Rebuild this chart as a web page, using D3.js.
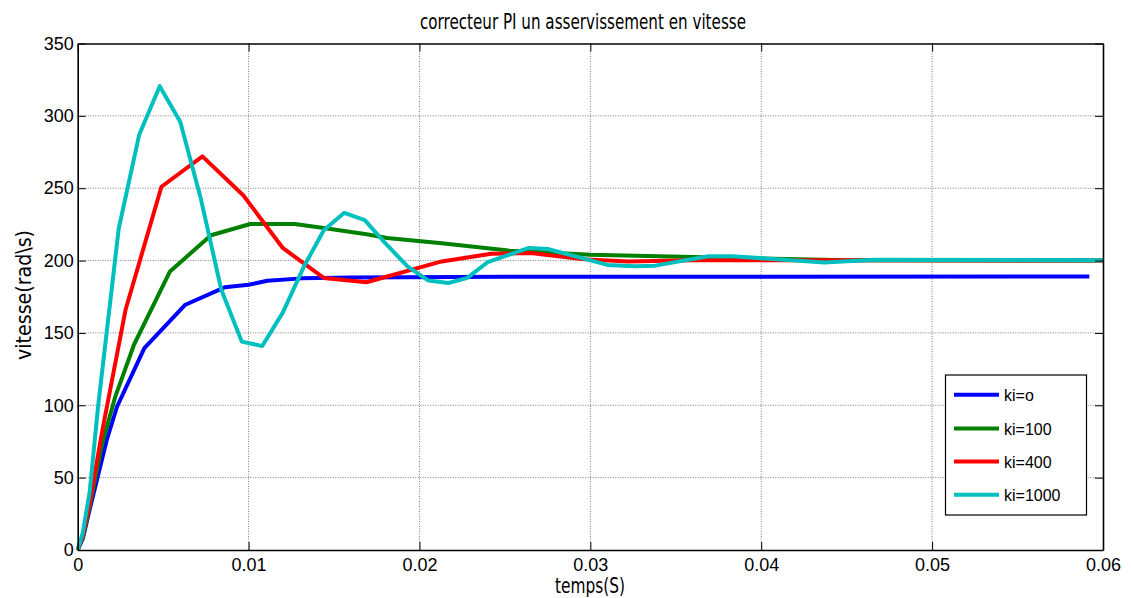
<!DOCTYPE html>
<html>
<head>
<meta charset="utf-8">
<script src="https://cdn.jsdelivr.net/npm/d3@7"></script>
<style>
  body { margin: 0; background: #fff; }
  svg { display: block; }
</style>
</head>
<body>
<script>
// values: [temps (s), vitesse (rad/s)]
const ki0 = [[0,0],[0.0003,8],[0.0007,28],[0.0017,76],[0.0023,99],[0.0039,139.5],[0.0063,169.5],
  [0.0086,181.5],[0.0100,183.3],[0.0111,186],[0.0131,187.7],[0.016,188.3],[0.025,188.8],[0.0592,189]];
const ki100 = [[0,0],[0.0003,9],[0.0007,30],[0.0014,72],[0.0022,106],[0.0033,142],[0.0054,192.5],
  [0.0078,217.5],[0.0101,225.3],[0.0127,225.3],[0.0144,222.5],[0.017,218],[0.0181,215.6],[0.0213,212],
  [0.0252,207],[0.030,204],[0.036,202.5],[0.045,200.3],[0.06,200]];
const ki400 = [[0,0],[0.0003,10],[0.0007,32],[0.0014,80],[0.0028,166],[0.0049,251],[0.0073,272],
  [0.0097,245],[0.012,208.7],[0.0144,188],[0.0169,185],[0.0213,199.4],[0.0242,204.7],[0.0265,205.2],
  [0.0295,201],[0.0322,199.4],[0.036,200.3],[0.045,200.2],[0.06,200]];
const ki1000 = [[0,0],[0.0003,12],[0.0007,40],[0.0012,100],[0.0024,222],[0.0036,287],[0.0048,320.5],
  [0.006,296],[0.0072,243],[0.0084,180],[0.0096,144],[0.0108,141],[0.012,164],[0.0132,195],
  [0.0144,221],[0.0156,233],[0.0168,228],[0.018,212],[0.0193,196],[0.0205,186.3],[0.0217,184.5],
  [0.0228,188],[0.024,199],[0.0264,208.7],[0.0275,208],[0.031,197],[0.0326,196],[0.0338,196.5],
  [0.0369,203],[0.0383,203],[0.0437,198.7],[0.0467,200.5],[0.06,200.3]];

const seriesNames = ["ki=o", "ki=100", "ki=400", "ki=1000"];
const seriesData = [ki0, ki100, ki400, ki1000];
const colors = ["#0000ff", "#008000", "#ff0000", "#00bfbf"];

const xTicks = [0, 0.01, 0.02, 0.03, 0.04, 0.05, 0.06];
const yTicks = [0, 50, 100, 150, 200, 250, 300, 350];

const w = 1131, h = 598;
const padL = 77.7, padR = 1103, padT = 43.5, padB = 550;

const svg = d3.select("body").append("svg")
  .attr("width", w)
  .attr("height", h);

const x = d3.scaleLinear().domain([0, 0.06]).range([padL, padR]);
const y = d3.scaleLinear().domain([0, 350]).range([padB, padT]);

// grid
const grid = svg.append("g")
  .attr("stroke", "#7a7a7a")
  .attr("stroke-width", 1)
  .attr("stroke-dasharray", "1,1.5");
grid.selectAll(".gx").data(xTicks.slice(1, -1)).enter().append("line")
  .attr("x1", d => x(d)).attr("x2", d => x(d))
  .attr("y1", padT).attr("y2", padB);
grid.selectAll(".gy").data(yTicks.slice(1, -1)).enter().append("line")
  .attr("y1", d => y(d)).attr("y2", d => y(d))
  .attr("x1", padL).attr("x2", padR);

// curves
const line = d3.line().x(d => x(d[0])).y(d => y(d[1]));
svg.append("g").selectAll("path")
  .data(seriesData)
  .enter()
  .append("path")
  .attr("d", line)
  .attr("fill", "none")
  .attr("stroke", (d, i) => colors[i])
  .attr("stroke-width", 4)
  .attr("stroke-linejoin", "round");

// axes (matlab box, ticks inside)
const fmt = d => d === 0 ? "0" : String(d);
const xAxis = d3.axisBottom(x).tickValues(xTicks).tickFormat(fmt).tickSizeInner(-8).tickSizeOuter(0).tickPadding(8);
const yAxis = d3.axisLeft(y).tickValues(yTicks).tickFormat(fmt).tickSizeInner(-8).tickSizeOuter(0).tickPadding(4);
const xTop = d3.axisTop(x).tickValues(xTicks).tickFormat("").tickSizeInner(-8).tickSizeOuter(0);
const yRight = d3.axisRight(y).tickValues(yTicks).tickFormat("").tickSizeInner(-8).tickSizeOuter(0);

svg.append("g").attr("transform", "translate(0," + padB + ")").call(xAxis);
svg.append("g").attr("transform", "translate(" + padL + ",0)").call(yAxis);
svg.append("g").attr("transform", "translate(0," + padT + ")").call(xTop);
svg.append("g").attr("transform", "translate(" + padR + ",0)").call(yRight);

svg.selectAll(".domain").attr("stroke", "#000").attr("stroke-width", 1.6);
svg.selectAll(".tick line").attr("stroke", "#000");
svg.selectAll(".tick text")
  .attr("font-family", "'Liberation Sans', Arial, sans-serif")
  .attr("font-size", 18)
  .attr("fill", "#000");

// titles
svg.append("text")
  .text("correcteur PI un asservissement en vitesse")
  .attr("x", 583).attr("y", 29)
  .attr("text-anchor", "middle")
  .attr("font-family", "'Liberation Sans Narrow', 'DejaVu Sans Condensed', sans-serif")
  .attr("font-size", 21)
  .attr("textLength", 326)
  .attr("lengthAdjust", "spacingAndGlyphs");

svg.append("text")
  .text("temps(S)")
  .attr("x", 590).attr("y", 593)
  .attr("text-anchor", "middle")
  .attr("font-family", "'Liberation Sans Narrow', 'DejaVu Sans Condensed', sans-serif")
  .attr("font-size", 21)
  .attr("textLength", 70)
  .attr("lengthAdjust", "spacingAndGlyphs");

svg.append("text")
  .text("vitesse(rad\\s)")
  .attr("transform", "translate(31,295) rotate(-90)")
  .attr("text-anchor", "middle")
  .attr("font-family", "'Liberation Sans Narrow', 'DejaVu Sans Condensed', sans-serif")
  .attr("font-size", 21)
  .attr("textLength", 130)
  .attr("lengthAdjust", "spacingAndGlyphs");

// legend
const legend = svg.append("g");
legend.append("rect")
  .attr("x", 945.5).attr("y", 375)
  .attr("width", 141).attr("height", 140)
  .attr("fill", "#fff")
  .attr("stroke", "#000")
  .attr("stroke-width", 1.2);
const ly = [394.7, 428.5, 461.5, 494.7];
const items = legend.selectAll(".item").data(seriesNames).enter().append("g");
items.append("line")
  .attr("x1", 954).attr("x2", 999)
  .attr("y1", (d, i) => ly[i]).attr("y2", (d, i) => ly[i])
  .attr("stroke", (d, i) => colors[i])
  .attr("stroke-width", 4);
items.append("text")
  .text(d => d)
  .attr("x", 1004)
  .attr("y", (d, i) => ly[i] + 1)
  .attr("dy", "0.35em")
  .attr("font-family", "'Liberation Sans', Arial, sans-serif")
  .attr("font-size", 16);
</script>
</body>
</html>
